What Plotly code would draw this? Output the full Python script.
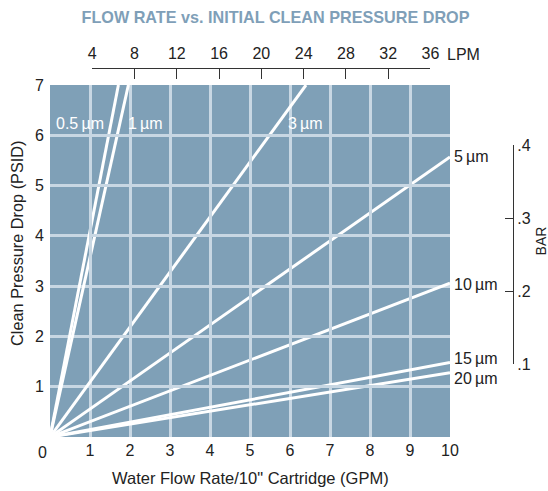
import plotly.graph_objects as go

# ---------------- data ----------------
series_names = ["0.5\u2009µm", "1\u2009µm", "3\u2009µm", "5\u2009µm", "10\u2009µm", "15\u2009µm", "20\u2009µm"]
gpm_05 = [0, 1.71];  psid_05 = [0, 7.0]
gpm_1 = [0, 1.96];   psid_1 = [0, 7.0]
gpm_3 = [0, 6.40];   psid_3 = [0, 7.0]
gpm_5 = [0, 10.0];   psid_5 = [0, 5.57]
gpm_10 = [0, 10.0];  psid_10 = [0, 3.06]
gpm_15 = [0, 10.0];  psid_15 = [0, 1.48]
gpm_20 = [0, 10.0];  psid_20 = [0, 1.28]

gpm_ticks = [1, 2, 3, 4, 5, 6, 7, 8, 9, 10]
psid_ticks = [1, 2, 3, 4, 5, 6, 7]
lpm_ticks = [4, 8, 12, 16, 20, 24, 28, 32, 36]
bar_ticks = [0.1, 0.2, 0.3, 0.4]
bar_labels = [".1", ".2", ".3", ".4"]

LPM_PER_GPM = 3.785
PSI_PER_BAR = 14.5038

# ---------------- layout geometry ----------------
W, H = 548, 491
L, T = 50, 68
R = W - 513
B = H - 437
pw, ph = W - L - R, H - T - B
plot_w, plot_h = 400, 352
xmax, ymax = 10, 7
xfrac, yfrac = plot_w / pw, plot_h / ph

BG = "#7fa0b7"
GRID = "#c8d7e3"
DARK = "#222222"
FONT = "Liberation Sans, Arial, sans-serif"

fig = go.Figure()
xs = [gpm_05, gpm_1, gpm_3, gpm_5, gpm_10, gpm_15, gpm_20]
ys = [psid_05, psid_1, psid_3, psid_5, psid_10, psid_15, psid_20]
for name, x, y in zip(series_names, xs, ys):
    fig.add_trace(go.Scatter(x=x, y=y, mode="lines", name=name,
                             line=dict(color="white", width=3),
                             xaxis="x", yaxis="y", cliponaxis=True, hoverinfo="skip"))

# empty traces so that the secondary scales are drawn
fig.add_trace(go.Scatter(x=[], y=[], xaxis="x2", yaxis="y", showlegend=False))
fig.add_trace(go.Scatter(x=[], y=[], xaxis="x", yaxis="y2", showlegend=False))

lpm_lo, lpm_hi = lpm_ticks[0], lpm_ticks[-1]
bar_lo, bar_hi = bar_ticks[0], bar_ticks[-1]

fig.update_layout(
    width=W, height=H,
    margin=dict(l=L, r=R, t=T, b=B, autoexpand=False),
    paper_bgcolor="white",
    plot_bgcolor="rgba(0,0,0,0)",
    showlegend=False,
    font=dict(family=FONT, size=16, color=DARK),
    title=dict(text="<b>FLOW RATE vs. INITIAL CLEAN PRESSURE DROP</b>",
               font=dict(family=FONT, size=16.2, color="#7f9fb8"),
               x=275.5 / W, xref="container", xanchor="center",
               y=1 - 17.5 / H, yref="container", yanchor="middle"),
    xaxis=dict(domain=[0, xfrac], range=[0, xmax], tickvals=gpm_ticks,
               showgrid=True, gridcolor=GRID, gridwidth=2.5, zeroline=False,
               showline=False, ticks="", tickfont=dict(size=16, color=DARK),
               anchor="y", fixedrange=True, ticklabelstandoff=2),
    yaxis=dict(domain=[0, yfrac], range=[0, ymax], tickvals=psid_ticks,
               showgrid=True, gridcolor=GRID, gridwidth=2.5, zeroline=False,
               showline=False, ticks="", tickfont=dict(size=16, color=DARK),
               anchor="x", fixedrange=True, ticklabelstandoff=5),
    xaxis2=dict(domain=[lpm_lo / LPM_PER_GPM / xmax * xfrac, lpm_hi / LPM_PER_GPM / xmax * xfrac],
                range=[lpm_lo, lpm_hi], tickvals=lpm_ticks, side="top",
                anchor="free", position=1, showgrid=False, zeroline=False,
                showline=True, linecolor="#333", linewidth=1,
                ticks="inside", ticklen=10, tickcolor="#333", tickwidth=1,
                tickfont=dict(size=16, color=DARK), fixedrange=True, ticklabelstandoff=3),
    yaxis2=dict(domain=[bar_lo * PSI_PER_BAR / ymax * yfrac, bar_hi * PSI_PER_BAR / ymax * yfrac],
                range=[bar_lo, bar_hi], tickvals=bar_ticks, ticktext=bar_labels,
                side="right", anchor="free", position=1, showgrid=False, zeroline=False,
                showline=True, linecolor="#333", linewidth=1,
                ticks="inside", ticklen=8, tickcolor="#333", tickwidth=1,
                tickfont=dict(size=16, color=DARK), fixedrange=True),
)

# plot background
fig.add_shape(type="rect", xref="x domain", yref="y domain", x0=0, x1=1, y0=0, y1=1,
              fillcolor=BG, line=dict(width=0), layer="below")

# series labels
inside = [("0.5\u2009µm", 0.75, 6.24), ("1\u2009µm", 2.38, 6.24), ("3\u2009µm", 6.38, 6.24)]
for txt, x, y in inside:
    fig.add_annotation(x=x, y=y, xref="x", yref="y", text=txt, showarrow=False,
                       font=dict(size=16, color="white"), xanchor="center", yanchor="middle")
outside = [("5\u2009µm", 5.57), ("10\u2009µm", 3.04), ("15\u2009µm", 1.57), ("20\u2009µm", 1.17)]
for txt, y in outside:
    fig.add_annotation(x=xmax, y=y, xref="x", yref="y", text=txt, showarrow=False,
                       font=dict(size=16, color=DARK), xanchor="left", yanchor="middle", xshift=2)

# corner zero, unit labels and axis titles
fig.add_annotation(x=0, y=0, xref="x", yref="y", text="0", showarrow=False,
                   font=dict(size=16, color=DARK), xanchor="center", yanchor="middle",
                   xshift=-8, yshift=-15)
fig.add_annotation(x=xmax, y=ymax, xref="x", yref="y", text="LPM", showarrow=False,
                   font=dict(size=16, color=DARK), xanchor="left", yanchor="middle",
                   xshift=-5, yshift=31)
fig.add_annotation(x=xmax, y=3.90, xref="x", yref="y",
                   text="BAR", showarrow=False, textangle=-90,
                   font=dict(size=14, color=DARK),
                   xanchor="center", yanchor="middle", xshift=90.5)
fig.add_annotation(x=xmax / 2, y=0, xref="x", yref="y",
                   text="Water Flow Rate/10\" Cartridge (GPM)", showarrow=False,
                   font=dict(size=16.5, color=DARK),
                   xanchor="center", yanchor="middle", yshift=-41)
fig.add_annotation(x=0, y=3.84, xref="x", yref="y",
                   text="Clean Pressure Drop (PSID)", showarrow=False, textangle=-90,
                   font=dict(size=16.3, color=DARK),
                   xanchor="center", yanchor="middle", xshift=-33)

fig.write_html("out.html", config={"displayModeBar": False},
               post_script="document.body.style.margin='0';document.body.style.overflow='hidden';")
